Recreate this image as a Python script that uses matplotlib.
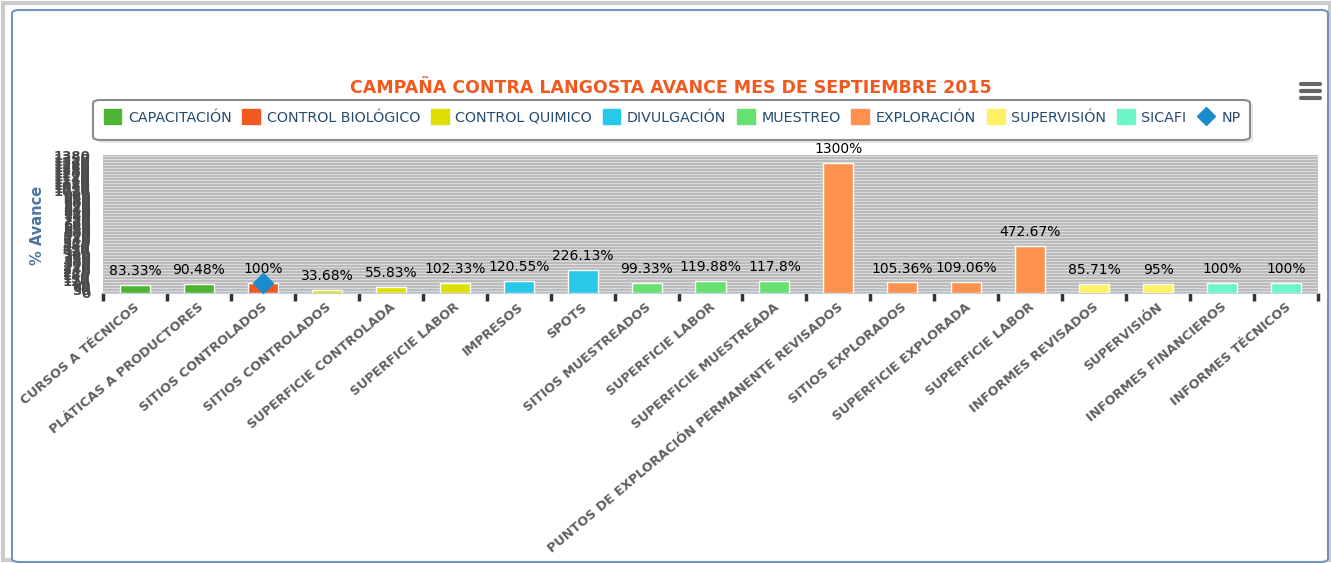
import matplotlib
matplotlib.use("Agg")
import matplotlib.pyplot as plt
import matplotlib.patches as mpatches
import matplotlib.lines as mlines
import numpy as np

##### data #####
categories = ["CURSOS A TÉCNICOS", "PLÁTICAS A PRODUCTORES", "SITIOS CONTROLADOS",
              "SITIOS CONTROLADOS", "SUPERFICIE CONTROLADA", "SUPERFICIE LABOR",
              "IMPRESOS", "SPOTS", "SITIOS MUESTREADOS", "SUPERFICIE LABOR",
              "SUPERFICIE MUESTREADA", "PUNTOS DE EXPLORACIÓN PERMANENTE REVISADOS",
              "SITIOS EXPLORADOS", "SUPERFICIE EXPLORADA", "SUPERFICIE LABOR",
              "INFORMES REVISADOS", "SUPERVISIÓN", "INFORMES FINANCIEROS", "INFORMES TÉCNICOS"]
values = [83.33, 90.48, 100, 33.68, 55.83, 102.33, 120.55, 226.13, 99.33, 119.88,
          117.8, 1300, 105.36, 109.06, 472.67, 85.71, 95, 100, 100]
value_labels = ["83.33%", "90.48%", "100%", "33.68%", "55.83%", "102.33%", "120.55%",
                "226.13%", "99.33%", "119.88%", "117.8%", "1300%", "105.36%", "109.06%",
                "472.67%", "85.71%", "95%", "100%", "100%"]
series = ["CAPACITACIÓN", "CAPACITACIÓN", "CONTROL BIOLÓGICO", "CONTROL QUIMICO",
          "CONTROL QUIMICO", "CONTROL QUIMICO", "DIVULGACIÓN", "DIVULGACIÓN",
          "MUESTREO", "MUESTREO", "MUESTREO", "EXPLORACIÓN", "EXPLORACIÓN",
          "EXPLORACIÓN", "EXPLORACIÓN", "SUPERVISIÓN", "SUPERVISIÓN", "SICAFI", "SICAFI"]
series_names = ["CAPACITACIÓN", "CONTROL BIOLÓGICO", "CONTROL QUIMICO", "DIVULGACIÓN",
                "MUESTREO", "EXPLORACIÓN", "SUPERVISIÓN", "SICAFI"]
series_colors = ["#4db533", "#f05a1e", "#dede00", "#29c8e6", "#66e070", "#ff914f",
                 "#fff066", "#6ef5c8"]
np_index = 2
np_value = 100

colors = dict(zip(series_names, series_colors))

##### figure #####
W, H = 1331, 563
fig = plt.figure(figsize=(W / 100, H / 100), dpi=100)

def fx(px):
    return px / W

def fy(py):
    return 1 - py / H

# outer frames
fig.patches.append(mpatches.Rectangle((fx(3), fy(560)), fx(1330) - fx(3), fy(3) - fy(560),
                                      transform=fig.transFigure, fill=False,
                                      edgecolor="#cccccc", linewidth=3, zorder=-10))
fig.patches.append(mpatches.FancyBboxPatch((fx(12), fy(562)), fx(1316), fy(10) - fy(562),
                                           boxstyle="round,pad=0,rounding_size=0.006",
                                           transform=fig.transFigure, fill=True,
                                           facecolor="white", edgecolor="#6f93c2",
                                           linewidth=1.5, zorder=-9))

ax = fig.add_axes([fx(103), fy(293), fx(1318) - fx(103), fy(155) - fy(293)])
ax.set_facecolor("#dcdcdc")
x = np.arange(len(categories))
bar_colors = [colors[s] for s in series]
ax.bar(x, values, width=0.47, color=bar_colors, edgecolor="white", linewidth=1, zorder=3)
for xi, v, lab in zip(x, values, value_labels):
    ax.annotate(lab, (xi, v), xytext=(0, 5), textcoords="offset points",
                ha="center", va="bottom", fontsize=10, color="black", zorder=5,
                annotation_clip=False)
ax.plot([np_index], [np_value], marker="D", markersize=10, color="#1a8ccc",
        linestyle="none", zorder=4)

ax.set_xlim(-0.5, len(categories) - 0.5)
ax.set_ylim(0, 1380)
yt = np.arange(0, 1381, 30)
ax.set_yticks(yt)
ax.set_yticklabels([str(v) for v in yt], fontsize=9.5, color="#4a4a4a", fontweight="bold")
ax.tick_params(axis="y", length=0, pad=9)
ax.yaxis.grid(True, color="#b5b5b5", linewidth=1.2, zorder=0)
ax.set_axisbelow(True)

ax.set_xticks(x)
ax.set_xticklabels([])
ax.set_xticks(np.arange(-0.5, len(categories)), minor=True)
ax.tick_params(axis="x", which="major", length=0)
ax.tick_params(axis="x", which="minor", length=6, width=2.5, color="#333333")
for xi, lab in zip(x, categories):
    ax.text(xi - 0.02, -75, lab, rotation=40, rotation_mode="anchor", ha="right", va="top",
            fontsize=9.3, fontweight="bold", color="#606060", clip_on=False)

for s in ["top", "right", "left"]:
    ax.spines[s].set_visible(False)
ax.spines["bottom"].set_color("#c0d0e0")

fig.text(fx(38), fy(225), "% Avance", rotation=90, ha="center", va="center",
         fontsize=10.5, fontweight="bold", color="#4d759e")

fig.text(fx(671), fy(88), "CAMPAÑA CONTRA LANGOSTA AVANCE MES DE SEPTIEMBRE 2015",
         ha="center", va="center", fontsize=12.5, fontweight="bold", color="#f05a1e")

# legend box
fig.patches.append(mpatches.FancyBboxPatch((fx(96), fy(143)), fx(1157), fy(102) - fy(143),
                                           boxstyle="round,pad=0,rounding_size=0.006",
                                           transform=fig.transFigure, fill=True,
                                           facecolor="#e6e6e6", edgecolor="none", zorder=-5))
fig.patches.append(mpatches.FancyBboxPatch((fx(93), fy(140)), fx(1157), fy(100) - fy(140),
                                           boxstyle="round,pad=0,rounding_size=0.006",
                                           transform=fig.transFigure, fill=True,
                                           facecolor="white", edgecolor="#8a8a8a",
                                           linewidth=1.5, zorder=-4))
handles = [mpatches.Patch(color=c, label=n) for n, c in zip(series_names, series_colors)]
handles.append(mlines.Line2D([], [], marker="D", color="#1a8ccc", linestyle="none",
                             markersize=9, label="NP"))
fig.legend(handles=handles, loc="center", bbox_to_anchor=(fx(672), fy(117)), ncol=9,
           frameon=False, fontsize=10.3, handlelength=1.25, handleheight=1.25,
           handletextpad=0.45, columnspacing=0.75, labelcolor="#274b6d")

# menu icon
for yy in [84, 91, 98]:
    fig.add_artist(mlines.Line2D([fx(1301), fx(1320)], [fy(yy), fy(yy)], transform=fig.transFigure,
                                 color="#666666", linewidth=3, solid_capstyle="round"))

plt.savefig("out.png", dpi=100)
